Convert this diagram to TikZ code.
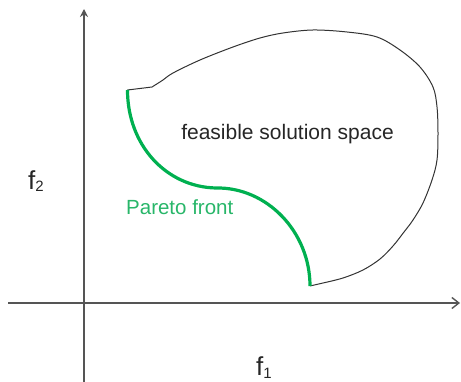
\documentclass[tikz,border=0pt]{standalone}
\usepackage{fontspec}
\setmainfont{Liberation Sans}
\usetikzlibrary{arrows.meta}
\definecolor{frontgreen}{RGB}{0,176,80}
\definecolor{labelgreen}{RGB}{40,182,105}
\definecolor{axisgray}{RGB}{85,85,85}
\tikzset{
  axisline/.style={draw=axisgray, line width=1.4pt},
  outline/.style={draw=black!80, line width=1pt, line join=round},
  front/.style={draw=frontgreen, line width=3.2pt},
  axislabel/.style={font=\fontsize{26}{26}\selectfont, text=black!85, inner sep=0pt}
}
\newcommand{\lowsub}[1]{\raisebox{-2pt}{\fontsize{15}{15}\selectfont #1}}
\begin{document}
\begin{tikzpicture}[x=1pt, y=-1pt]
\useasboundingbox (0,0) rectangle (461,382);
% axes
\coordinate (x-start) at (8,303);
\coordinate (x-end) at (460,303);
\coordinate (y-start) at (84,382);
\coordinate (y-end) at (84,9);
\draw[axisline, -{Straight Barb[length=7pt,width=11pt]}] (x-start) -- (x-end);
\draw[axisline, -{Stealth[length=8pt,width=8pt]}] (y-start) -- (y-end);
% ends of the Pareto front
\coordinate (pf-top) at (127.5,90);
\coordinate (pf-mid) at (216,188);
\coordinate (pf-end) at (310,286);
% border of the feasible region
\draw[outline] (pf-top) -- (152,87)
  plot[smooth, tension=0.55] coordinates {(152,87) (163,80) (173,73) (200,60) (233,47)
    (260,38) (283,33) (313,30) (347,32) (377,37) (400,50) (420,67) (433,87) (437,107)
    (438,133) (437,160) (432,180) (423,203) (413,220) (404,232) (393,246) (380,259)
    (363,270) (343,278) (323,283)} -- (pf-end);
\draw[front] (pf-top) .. controls (127.5,145) and (166,187) .. (pf-mid)
  .. controls (267,187) and (310,232) .. (pf-end);
% labels
\node[anchor=base, inner sep=0pt, font=\fontsize{21}{21}\selectfont, text=black!85]
  (feasible) at (287.5,140) {feasible solution space};
\node[anchor=base west, inner sep=0pt, font=\fontsize{20.5}{20.5}\selectfont, text=labelgreen]
  (pareto) at (126,215) {Pareto front};
\node[axislabel, anchor=base west] (f-two) at (28,190) {f\lowsub{2}};
\node[axislabel, anchor=base west] (f-one) at (256,376) {f\lowsub{1}};
\end{tikzpicture}
\end{document}
